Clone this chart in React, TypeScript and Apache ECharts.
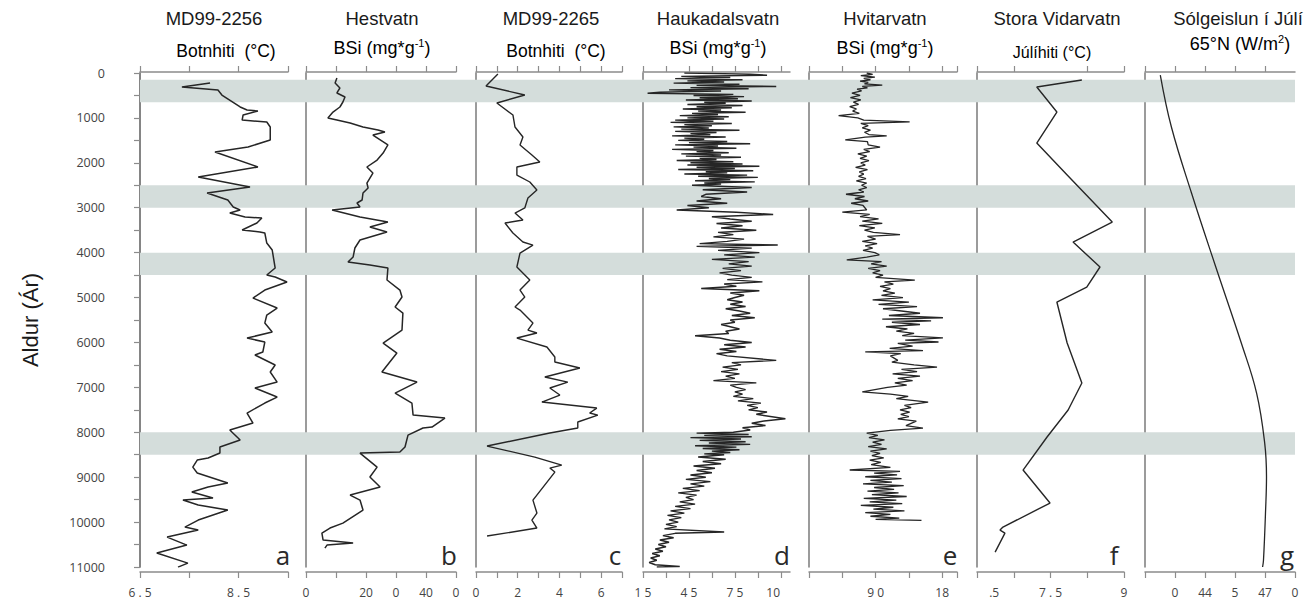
import React, { useEffect, useRef } from "react";
import * as echarts from "echarts";

// ---------- DATA ----------
// Age bands (years) highlighted across all panels
const BANDS: [number, number][] = [
  [150, 650],
  [2500, 3000],
  [4000, 4500],
  [8000, 8500],
];

// [value, age]
const MD99_2256: number[][] = [
  [7.92, 223], [7.35, 312], [8.08, 379], [8.16, 490], [8.53, 757], [8.67, 824], [8.89, 846], [8.59, 935],
  [8.57, 1047], [9.07, 1091], [9.14, 1203], [9.14, 1492], [8.69, 1648], [8.02, 1759], [8.89, 2093], [7.68, 2316],
  [8.73, 2539], [7.86, 2672], [8.28, 2828], [8.39, 2984], [8.53, 3051], [8.32, 3118], [8.63, 3207], [8.97, 3229],
  [8.87, 3340], [8.57, 3496], [8.93, 3541], [9.03, 3563], [9.07, 3786], [9.18, 3942], [9.24, 4343], [9.07, 4499],
  [9.24, 4543], [9.48, 4654], [9.03, 4833], [8.79, 5011], [9.28, 5233], [9.07, 5389], [9.03, 5568], [9.18, 5768],
  [8.67, 5902], [9.03, 5991], [8.99, 6213], [8.83, 6280], [9.24, 6503], [9.14, 6659], [9.28, 6882], [8.83, 7015],
  [9.28, 7216], [9.03, 7349], [8.67, 7572], [8.79, 7795], [8.32, 7951], [8.53, 8173], [8.12, 8329], [8.12, 8463],
  [7.88, 8574], [7.66, 8619], [7.57, 8775], [7.66, 8908], [8.28, 9131], [7.88, 9220], [7.55, 9331], [7.98, 9465],
  [7.37, 9510], [7.68, 9621], [8.28, 9732], [7.68, 9955], [7.41, 10111], [7.68, 10178], [7.05, 10334], [7.45, 10512],
  [6.84, 10690], [7.47, 10913], [7.27, 11002],
];

// [value, age]
const HESTVATN: number[][] = [
  [10.3, 111], [9.7, 223], [11.3, 334], [10.3, 445], [13.0, 535], [12.3, 646], [11.3, 757], [9.0, 869],
  [7.3, 1002], [10.3, 1047], [14.7, 1114], [19.0, 1203], [24.0, 1269], [26.3, 1314], [22.3, 1381], [27.3, 1603],
  [25.7, 1782], [23.7, 1938], [20.3, 2093], [22.3, 2227], [20.3, 2450], [20.7, 2561], [19.0, 2672], [18.7, 2828],
  [17.0, 2895], [18.0, 2984], [8.7, 3051], [18.0, 3207], [27.3, 3318], [21.3, 3430], [27.0, 3541], [18.0, 3719],
  [16.3, 3897], [15.7, 4098], [14.0, 4209], [21.3, 4276], [27.3, 4343], [27.0, 4610], [31.3, 4833], [32.0, 4989],
  [29.7, 5211], [32.3, 5345], [32.0, 5724], [25.7, 6013], [30.3, 6236], [25.3, 6659], [37.0, 6882], [29.7, 7127],
  [35.3, 7349], [35.7, 7617], [46.3, 7683], [42.0, 7884], [39.0, 7906], [34.0, 8062], [33.0, 8329], [31.3, 8441],
  [18.0, 8463], [23.7, 8775], [21.3, 8997], [24.7, 9220], [14.7, 9398], [18.0, 9510], [19.0, 9732], [12.3, 10022],
  [8.0, 10133], [5.3, 10245], [5.7, 10401], [15.7, 10467], [7.0, 10512], [6.3, 10579],
];

// [value, age]
const MD99_2265: number[][] = [
  [1.05, 22], [0.48, 290], [2.34, 490], [1.0, 668], [1.77, 935], [1.87, 1203], [2.25, 1425], [2.11, 1603],
  [2.68, 1826], [3.06, 1982], [1.96, 2093], [1.96, 2272], [2.58, 2427], [2.92, 2606], [2.49, 2784], [2.34, 3006],
  [1.87, 3118], [2.25, 3274], [1.39, 3340], [1.77, 3563], [2.25, 3764], [2.73, 3831], [2.11, 4009], [1.96, 4320],
  [2.58, 4610], [2.11, 4833], [2.34, 4989], [1.87, 5211], [2.11, 5278], [2.73, 5568], [2.49, 5724], [2.92, 5790],
  [1.96, 5902], [3.4, 6102], [3.78, 6325], [3.78, 6436], [4.98, 6570], [3.3, 6770], [4.4, 6882], [3.54, 7015],
  [4.02, 7171], [3.16, 7327], [5.79, 7461], [5.45, 7572], [5.84, 7617], [4.88, 7772], [4.88, 7906], [3.54, 8017],
  [0.53, 8307], [2.82, 8552], [4.11, 8730], [3.54, 8797], [3.78, 8886], [2.73, 9510], [2.92, 9799], [2.68, 9955],
  [2.92, 10133], [0.53, 10311],
];

// [age, value]
const HAUKADALSVATN: number[][] = [
  [0, 4.2], [25, 8.5], [50, 9.6], [75, 4.0], [100, 7.2], [125, 3.6], [150, 8.0], [175, 4.4], [200, 6.8], [225, 3.5],
  [250, 7.8], [275, 5.0], [300, 10.2], [325, 4.6], [350, 8.4], [375, 3.2], [400, 6.6], [425, 2.6], [450, 1.8], [475, 7.4],
  [500, 4.8], [525, 8.1], [550, 5.2], [575, 7.7], [600, 4.3], [625, 8.6], [650, 5.5], [675, 6.9], [700, 4.4], [725, 8.0],
  [750, 5.0], [775, 7.3], [800, 4.1], [825, 6.6], [850, 5.1], [875, 8.2], [900, 4.7], [925, 6.4], [950, 3.9], [975, 7.1],
  [1000, 4.4], [1025, 6.8], [1050, 3.6], [1075, 6.1], [1100, 3.3], [1125, 7.3], [1150, 4.2], [1175, 6.0], [1200, 3.5],
  [1225, 5.8], [1250, 4.0], [1275, 7.8], [1300, 3.6], [1325, 6.3], [1350, 4.6], [1375, 5.9], [1400, 3.4], [1425, 6.9],
  [1450, 4.2], [1475, 5.5], [1500, 3.8], [1525, 7.0], [1550, 4.5], [1575, 8.5], [1600, 3.6], [1625, 6.4], [1650, 4.8],
  [1675, 7.6], [1700, 3.4], [1725, 6.1], [1750, 5.0], [1775, 7.1], [1800, 4.0], [1825, 6.6], [1850, 4.3], [1875, 7.9],
  [1900, 5.2], [1925, 6.3], [1950, 3.7], [1975, 7.4], [2000, 4.6], [2025, 8.0], [2050, 4.4], [2075, 9.1], [2100, 5.0],
  [2125, 7.5], [2150, 3.8], [2175, 8.7], [2200, 5.6], [2225, 7.0], [2250, 4.2], [2275, 8.3], [2300, 5.1], [2325, 9.0],
  [2350, 5.8], [2375, 7.2], [2400, 4.9], [2425, 8.8], [2450, 5.5], [2475, 6.6], [2500, 4.7], [2550, 8.6], [2600, 5.4],
  [2650, 8.3], [2700, 5.6], [2750, 5.3], [2800, 6.6], [2850, 5.0], [2900, 7.0], [2950, 4.4], [3000, 5.8], [3050, 3.7],
  [3100, 7.6], [3150, 10.0], [3200, 6.0], [3250, 7.2], [3300, 8.6], [3350, 6.3], [3400, 8.0], [3450, 6.6], [3500, 8.9],
  [3550, 6.4], [3600, 7.4], [3650, 6.1], [3700, 8.1], [3750, 7.0], [3800, 5.2], [3830, 10.3], [3860, 5.0], [3900, 8.6],
  [3950, 6.4], [4000, 9.1], [4050, 6.8], [4100, 8.8], [4150, 6.0], [4200, 8.4], [4250, 7.1], [4300, 8.6], [4350, 6.7],
  [4400, 7.9], [4450, 6.5], [4500, 7.3], [4550, 8.6], [4600, 7.0], [4650, 9.3], [4700, 6.8], [4750, 7.6], [4800, 5.3],
  [4850, 9.1], [4900, 7.2], [4950, 8.1], [5000, 7.5], [5050, 7.0], [5100, 8.0], [5150, 7.2], [5200, 8.2], [5250, 6.9],
  [5300, 7.8], [5350, 8.5], [5400, 7.3], [5450, 8.8], [5500, 7.2], [5550, 7.5], [5600, 6.6], [5700, 7.8], [5750, 6.9],
  [5800, 7.1], [5850, 4.9], [5900, 6.5], [5950, 7.2], [6000, 8.6], [6050, 6.8], [6100, 8.2], [6150, 6.5], [6200, 7.6],
  [6250, 6.3], [6300, 7.0], [6400, 10.2], [6450, 7.3], [6500, 7.9], [6550, 6.7], [6600, 7.7], [6650, 6.6], [6700, 7.8],
  [6750, 6.9], [6800, 7.5], [6850, 6.1], [6900, 8.9], [6950, 7.2], [7000, 7.6], [7050, 8.2], [7100, 7.5], [7150, 8.0],
  [7200, 7.4], [7250, 8.7], [7300, 7.7], [7350, 9.2], [7400, 8.3], [7450, 9.0], [7500, 8.4], [7550, 9.6], [7600, 8.9],
  [7700, 10.8], [7750, 9.4], [7800, 8.6], [7850, 9.5], [7900, 8.0], [7950, 8.5], [8000, 7.4], [8020, 5.0], [8050, 8.4],
  [8070, 5.5], [8100, 8.6], [8120, 4.6], [8150, 7.9], [8180, 5.2], [8210, 8.2], [8240, 5.8], [8270, 8.5], [8300, 4.9],
  [8330, 7.6], [8360, 5.4], [8390, 7.8], [8420, 6.0], [8450, 7.2], [8480, 5.5], [8500, 6.8], [8550, 5.1], [8600, 6.9],
  [8650, 5.4], [8700, 6.6], [8750, 4.8], [8800, 6.2], [8850, 5.0], [8900, 6.0], [8950, 4.6], [9000, 5.6], [9050, 4.3],
  [9100, 5.9], [9150, 4.6], [9200, 5.5], [9250, 4.1], [9300, 5.2], [9350, 3.8], [9400, 5.0], [9450, 4.3], [9500, 4.8],
  [9550, 3.9], [9600, 4.9], [9650, 3.6], [9700, 4.6], [9750, 3.3], [9800, 4.2], [9850, 3.1], [9900, 4.0], [9950, 3.2],
  [10000, 3.8], [10050, 3.0], [10100, 3.7], [10150, 2.9], [10220, 6.8], [10250, 3.6], [10300, 2.8], [10350, 3.5],
  [10400, 2.6], [10450, 3.2], [10500, 2.5], [10550, 3.0], [10600, 2.3], [10650, 2.8], [10700, 2.1], [10750, 2.6],
  [10800, 2.0], [10850, 2.4], [10900, 1.9], [10950, 2.3], [10990, 3.9], [11000, 2.4],
];

// [age, value]
const HVITARVATN: number[][] = [
  [0, 7.8], [30, 8.6], [60, 7.0], [90, 8.9], [120, 7.4], [150, 8.3], [180, 6.9], [210, 8.0], [240, 7.5], [270, 9.9],
  [300, 7.2], [330, 7.9], [360, 6.5], [400, 7.1], [450, 5.8], [500, 6.9], [550, 5.6], [600, 7.0], [650, 6.0], [700, 6.7],
  [750, 5.5], [800, 6.4], [850, 5.9], [900, 6.8], [950, 4.0], [1000, 6.6], [1050, 7.4], [1090, 13.6], [1120, 7.0],
  [1170, 8.0], [1220, 7.2], [1270, 8.3], [1320, 7.5], [1370, 8.1], [1400, 10.5], [1430, 7.6], [1490, 4.9], [1530, 7.9],
  [1600, 8.0], [1650, 9.6], [1700, 7.4], [1750, 8.2], [1800, 6.6], [1850, 7.8], [1900, 6.9], [1950, 8.1], [2000, 7.0],
  [2050, 7.6], [2100, 6.3], [2150, 7.9], [2200, 6.8], [2250, 7.4], [2300, 6.7], [2350, 7.7], [2400, 6.4], [2450, 7.8],
  [2500, 7.1], [2550, 7.8], [2600, 6.7], [2650, 7.4], [2700, 5.0], [2750, 7.5], [2800, 6.2], [2850, 8.0], [2900, 5.7],
  [2950, 7.3], [3050, 7.8], [3100, 4.5], [3150, 8.2], [3200, 6.9], [3250, 9.4], [3300, 7.2], [3350, 9.9], [3400, 6.8],
  [3450, 8.9], [3500, 7.5], [3550, 8.7], [3600, 12.3], [3640, 7.9], [3700, 9.0], [3750, 7.2], [3800, 9.2], [3850, 7.6],
  [3900, 8.6], [3950, 7.3], [4000, 8.9], [4050, 9.5], [4100, 7.8], [4160, 5.1], [4200, 9.8], [4250, 8.4], [4300, 10.5],
  [4350, 8.0], [4400, 9.6], [4450, 8.6], [4500, 10.0], [4550, 9.0], [4610, 14.3], [4650, 10.2], [4700, 11.4],
  [4750, 9.6], [4800, 11.0], [4850, 10.0], [4900, 11.6], [4950, 9.8], [5000, 12.7], [5050, 8.6], [5100, 13.5],
  [5150, 9.4], [5200, 14.6], [5250, 10.0], [5300, 12.5], [5350, 15.0], [5400, 10.8], [5450, 18.1], [5480, 9.9],
  [5520, 16.5], [5550, 11.2], [5600, 15.0], [5650, 10.4], [5700, 13.3], [5750, 11.8], [5800, 14.2], [5850, 12.6],
  [5900, 18.1], [5950, 13.0], [5990, 17.5], [6020, 12.0], [6080, 14.0], [6130, 10.9], [6180, 15.4], [6210, 7.6],
  [6250, 12.4], [6300, 11.0], [6350, 11.5], [6400, 12.0], [6440, 11.2], [6500, 14.2], [6550, 17.3], [6600, 12.5],
  [6650, 14.6], [6700, 11.3], [6750, 15.0], [6800, 12.0], [6850, 14.0], [6900, 11.6], [6950, 13.2], [7000, 10.6],
  [7100, 7.2], [7150, 11.0], [7200, 13.4], [7250, 11.8], [7330, 16.1], [7400, 12.9], [7450, 13.8], [7500, 12.3],
  [7550, 13.6], [7600, 12.4], [7650, 13.5], [7700, 12.0], [7750, 14.5], [7850, 13.1], [7906, 15.4], [7960, 11.0],
  [8020, 7.8], [8070, 9.3], [8120, 8.1], [8170, 10.2], [8220, 8.6], [8270, 9.8], [8320, 8.0], [8370, 10.5], [8420, 8.3],
  [8470, 9.6], [8520, 8.5], [8570, 10.1], [8620, 8.2], [8670, 9.7], [8720, 8.4], [8780, 11.0], [8840, 5.5], [8870, 12.3],
  [8910, 8.8], [8950, 11.9], [8990, 7.6], [9030, 12.5], [9070, 8.3], [9110, 11.2], [9150, 7.3], [9190, 12.8], [9230, 8.8],
  [9270, 11.5], [9310, 7.9], [9350, 12.1], [9390, 8.5], [9430, 13.2], [9470, 7.4], [9510, 11.8], [9550, 8.2], [9590, 12.6],
  [9630, 7.0], [9670, 11.4], [9710, 8.7], [9750, 12.9], [9790, 7.6], [9830, 11.0], [9870, 8.3], [9910, 12.2], [9940, 9.0],
  [9960, 15.2],
];

// [value, age]
const STORA_VIDARVATN: number[][] = [
  [8.14, 156], [7.22, 312], [7.63, 869], [7.22, 1559], [7.84, 2272], [8.76, 3318], [7.96, 3764], [8.51, 4320],
  [8.24, 4766], [7.63, 5100], [7.84, 6013], [8.14, 6904], [7.86, 7505], [7.43, 8106], [6.94, 8841], [7.49, 9576],
  [6.53, 10111], [6.47, 10178], [6.57, 10245], [6.37, 10668],
];

// [value, age]
const INSOLATION: number[][] = [
  [430.1, 45], [433.8, 1203], [440.5, 2672], [448.6, 4320], [457.1, 6013], [462.2, 7127], [464.9, 8240],
  [465.5, 8997], [465.2, 9732], [464.5, 10846], [464.2, 11000],
];

// Tick positions and tick labels (as printed in the source figure)
const A_TICKS = [6.5, 7.5, 8.5, 9.5];
const A_LABELS: [number, string][] = [[6.5, "6 . 5"], [8.5, "8 . 5"]];
const B_TICKS = [0, 10, 20, 30, 40, 50];
const B_LABELS: [number, string][] = [[0, "0"], [20, "20"], [30, "0"], [40, "40"], [50, "0"]];
const C_TICKS = [0, 1, 2, 3, 4, 5, 6, 7];
const C_LABELS: [number, string][] = [[0, "0"], [2, "2"], [4, "4"], [6, "6"]];
const D_TICKS = [1.5, 3, 4.5, 6, 7.5, 9, 10.5];
const D_LABELS: [number, string][] = [[1.5, "1 5"], [4.5, "4 5"], [7.5, "7 5"], [10, "10"]];
const E_TICKS = [0, 4.5, 9, 13.5, 18, 20];
const E_LABELS: [number, string][] = [[9, "9 0"], [18, "18"]];
const F_TICKS = [6, 6.75, 7.5, 8.25, 9];
const F_TOP_TICKS = [6, 6.75, 8.25, 9];
const F_LABELS: [number, string][] = [[6.35, ".5"], [7.5, "7 . 5"], [9, "9"]];
const G_TICKS = [425, 435, 445, 455, 465, 475];
const G_TOP_TICKS = [425, 435, 445, 455, 465];
const G_LABELS: [number, string][] = [[435, "0"], [445, "44"], [455, "5"], [465, "47"], [475, "0"]];

const AGE_MIN = 0;
const AGE_MAX = 11000;
const AGE_INTERVAL = 500;

const TITLES_TOP: [number, string][] = [
  [214, "MD99-2256"], [382, "Hestvatn"], [551, "MD99-2265"], [718, "Haukadalsvatn"],
  [885, "Hvitarvatn"], [1057, "Stora Vidarvatn"], [1238, "Sólgeislun í Júlí"],
];
const PANEL_LETTERS = ["a", "b", "c", "d", "e", "f", "g"];

// ---------- LAYOUT ----------
const GRID_TOP = 73;
const GRID_H = 494;
const AXIS_COLOR = "#8c8c8c";
const LINE_COLOR = "#262626";

const flip = (arr: number[][]) => arr.map(([a, v]) => [v, a]);

const PANELS = [
  { left: 140, width: 148, min: 6.5, max: 9.5, ticks: A_TICKS, top: A_TICKS, labels: A_LABELS, data: MD99_2256, letterX: 283, lw: 1.5 },
  { left: 306, width: 150, min: 0, max: 50, ticks: B_TICKS, top: B_TICKS, labels: B_LABELS, data: HESTVATN, letterX: 449, lw: 1.5 },
  { left: 476, width: 146, min: 0, max: 7, ticks: C_TICKS, top: C_TICKS, labels: C_LABELS, data: MD99_2265, letterX: 615, lw: 1.4 },
  { left: 643, width: 147, min: 1.5, max: 11.1, ticks: D_TICKS, top: D_TICKS, labels: D_LABELS, data: flip(HAUKADALSVATN), letterX: 782, lw: 1.4 },
  { left: 809, width: 148, min: 0, max: 20, ticks: E_TICKS, top: E_TICKS, labels: E_LABELS, data: flip(HVITARVATN), letterX: 950, lw: 1.3 },
  { left: 977, width: 147, min: 6, max: 9, ticks: F_TICKS, top: F_TOP_TICKS, labels: F_LABELS, data: STORA_VIDARVATN, letterX: 1114, lw: 1.4 },
  { left: 1145, width: 150, min: 425, max: 475, ticks: G_TICKS, top: G_TOP_TICKS, labels: G_LABELS, data: INSOLATION, letterX: 1287, lw: 1.3, smooth: true },
];

function buildOption() {
  const grid: any[] = [{ left: 140, width: 1155, top: GRID_TOP, height: GRID_H }];
  const xAxis: any[] = [{ gridIndex: 0, type: "value", min: 0, max: 1, show: false }];
  const yAxis: any[] = [
    {
      gridIndex: 0,
      type: "value",
      inverse: true,
      min: AGE_MIN,
      max: AGE_MAX,
      interval: AGE_INTERVAL,
      position: "left",
      offset: 25,
      axisLine: { show: true, lineStyle: { color: AXIS_COLOR, width: 1.5 } },
      axisTick: { show: true, length: 6, lineStyle: { color: AXIS_COLOR, width: 1.2 } },
      axisLabel: {
        show: true,
        margin: 10,
        fontFamily: "Open Sans",
        fontSize: 12.5,
        color: "#444",
        formatter: (v: number) => (v % 1000 === 0 ? String(v) : ""),
      },
      splitLine: { show: false },
    },
  ];
  const series: any[] = [
    {
      type: "line",
      xAxisIndex: 0,
      yAxisIndex: 0,
      data: [],
      silent: true,
      markArea: {
        silent: true,
        itemStyle: { color: "#d4dddb", opacity: 1 },
        data: BANDS.map(([a, b]) => [{ yAxis: a }, { yAxis: b }]),
      },
    },
  ];

  PANELS.forEach((p, i) => {
    const gi = i + 1;
    grid.push({ left: p.left, width: p.width, top: GRID_TOP, height: GRID_H });
    const fmt = (v: number) => {
      let best = "";
      let bd = Infinity;
      p.labels.forEach(([val, txt]) => {
        const d = Math.abs(val - v);
        if (d < bd) { bd = d; best = txt; }
      });
      return best;
    };
    xAxis.push({
      gridIndex: gi,
      type: "value",
      position: "top",
      offset: 1,
      min: p.min,
      max: p.max,
      axisLine: { show: true, onZero: false, lineStyle: { color: AXIS_COLOR, width: 1.5 } },
      axisTick: { show: true, length: 6, customValues: p.top, lineStyle: { color: AXIS_COLOR, width: 1.2 } },
      axisLabel: { show: false },
      splitLine: { show: false },
    });
    xAxis.push({
      gridIndex: gi,
      type: "value",
      position: "bottom",
      offset: 5,
      min: p.min,
      max: p.max,
      axisLine: { show: true, onZero: false, lineStyle: { color: AXIS_COLOR, width: 1.5 } },
      axisTick: { show: true, length: 6, customValues: p.ticks, lineStyle: { color: AXIS_COLOR, width: 1.2 } },
      axisLabel: {
        show: true,
        customValues: p.labels.map((l) => l[0]),
        formatter: fmt,
        margin: 14,
        fontFamily: "Open Sans",
        fontSize: 12,
        color: "#444",
        showMinLabel: true,
        showMaxLabel: true,
      },
      splitLine: { show: false },
    });
    yAxis.push({
      gridIndex: gi,
      type: "value",
      inverse: true,
      min: AGE_MIN,
      max: AGE_MAX,
      position: "left",
      axisLine: { show: true, onZero: false, lineStyle: { color: "#7a7a7a", width: 1.5 } },
      axisTick: { show: false },
      axisLabel: { show: false },
      splitLine: { show: false },
    });
    series.push({
      type: "line",
      xAxisIndex: 1 + i * 2,
      yAxisIndex: gi,
      data: p.data,
      showSymbol: false,
      symbol: "none",
      smooth: p.smooth ? 0.4 : false,
      lineStyle: { color: LINE_COLOR, width: p.lw },
      silent: true,
      z: 3,
    });
  });

  const titleFont = "Liberation Sans";
  const graphic: any[] = [];
  TITLES_TOP.forEach(([x, t]) => {
    graphic.push({
      type: "text",
      x,
      y: 18,
      style: { text: t, font: `18.5px "${titleFont}"`, fill: "#1a1a1a", align: "center", verticalAlign: "middle" },
    });
  });
  const richBase = {
    a: { fontFamily: titleFont, fontSize: 18, color: "#1a1a1a", lineHeight: 22 },
    s: { fontFamily: titleFont, fontSize: 11, color: "#1a1a1a", verticalAlign: "top", lineHeight: 22 },
  };
  const sub: [number, number, string, number][] = [
    [226, 51, "{a|Botnhiti  (°C)}", 17.5],
    [382, 48, "{a|BSi (mg*g}{s|-1}{a|)}", 18],
    [556, 51, "{a|Botnhiti  (°C)}", 17.5],
    [718, 48, "{a|BSi (mg*g}{s|-1}{a|)}", 18],
    [885, 48, "{a|BSi (mg*g}{s|-1}{a|)}", 18],
    [1052, 52, "{a|Júlíhiti (°C)}", 16],
    [1240, 44, "{a|65°N (W/m}{s|2}{a|)}", 18],
  ];
  sub.forEach(([x, y, t, fs]) => {
    graphic.push({
      type: "text",
      x,
      y,
      style: {
        text: t,
        align: "center",
        verticalAlign: "middle",
        rich: { a: { ...richBase.a, fontSize: fs }, s: richBase.s },
      },
    });
  });
  PANELS.forEach((p, i) => {
    graphic.push({
      type: "text",
      x: p.letterX,
      y: 555,
      style: { text: PANEL_LETTERS[i], font: '26px "Open Sans"', fill: "#2a2a2a", align: "center", verticalAlign: "middle" },
    });
  });
  graphic.push({
    type: "text",
    x: 30,
    y: 320,
    rotation: Math.PI / 2,
    style: { text: "Aldur (Ár)", font: '22px "Liberation Sans"', fill: "#1a1a1a", align: "center", verticalAlign: "middle" },
  });

  return {
    animation: false,
    backgroundColor: "#ffffff",
    grid,
    xAxis,
    yAxis,
    series,
    graphic,
  };
}

export default function App() {
  const ref = useRef<HTMLDivElement>(null);
  useEffect(() => {
    if (!ref.current) return;
    const chart = echarts.init(ref.current, undefined, { renderer: "svg" });
    chart.setOption(buildOption() as any);
    return () => chart.dispose();
  }, []);
  return <div ref={ref} style={{ position: "absolute", left: 0, top: 0, width: 1313, height: 606 }} />;
}
